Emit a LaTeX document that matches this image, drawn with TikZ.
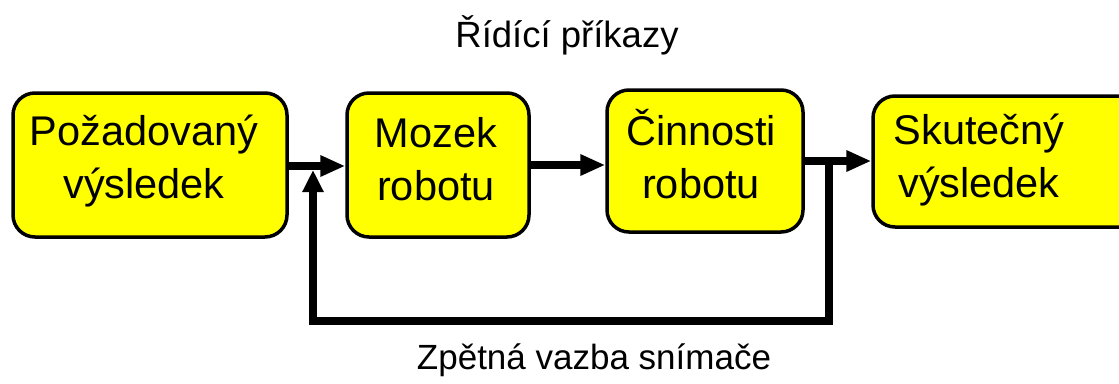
\documentclass[tikz,border=0pt]{standalone}
\usepackage{fontspec}
\setmainfont{Liberation Sans}
\usetikzlibrary{arrows.meta}
\definecolor{boxyellow}{HTML}{FFFF00}
\tikzset{
  box/.style={draw=black, line width=3.5pt, fill=boxyellow, rounded corners=22pt, inner sep=0pt},
  boxtext/.style={align=center, inner sep=0pt, font=\fontsize{41.5}{53}\selectfont, anchor=base},
  lbl/.style={inner sep=0pt, font=\fontsize{36.5}{44}\selectfont, anchor=base},
  flow/.style={line width=7.5pt, -{Triangle[length=25pt,width=20pt]}},
  fb/.style={line width=8.5pt, -{Triangle[length=22pt,width=20pt]}}
}
\begin{document}
\begin{tikzpicture}[x=1pt,y=-1pt]
\useasboundingbox (0,0) rectangle (1119,383);
% boxes
\node[box, minimum width=274pt, minimum height=144pt] (b1) at (150,165) {};
\node[box, minimum width=182pt, minimum height=144pt] (b2) at (438,165) {};
\node[box, minimum width=196pt, minimum height=142pt] (b3) at (705,161) {};
\node[box, minimum width=270pt, minimum height=131pt] (b4) at (1008,161.5) {};
% box texts (base anchor = last line baseline)
\node[boxtext] (t1) at (144,198) {Požadovaný\\výsledek};
\node[boxtext] (t2) at (436,200) {Mozek\\robotu};
\node[boxtext] (t3) at (701,198) {Činnosti\\robotu};
\node[boxtext] (t4) at (979,197) {Skutečný\\výsledek};
% labels
\node[lbl] (cmd) at (567,47) {Řídící příkazy};
\node[lbl, font=\fontsize{35}{42}\selectfont] (fbl) at (594,369) {Zpětná vazba snímače};
% junction coordinates
\coordinate (j1) at (313,170);
\coordinate (j2) at (829,161);
\coordinate (c1) at (829,321);
\coordinate (c2) at (313,321);
% forward arrows
\draw[flow] (b1.east |- 0,166) -- (b2.west |- 0,166);
\draw[flow] (b2.east |- 0,165) -- (b3.west |- 0,165);
\draw[flow] (b3.east |- 0,161) -- (b4.west |- 0,161);
% feedback
\draw[fb] (j2) -- (c1) -- (c2) -- (j1);
\end{tikzpicture}
\end{document}
